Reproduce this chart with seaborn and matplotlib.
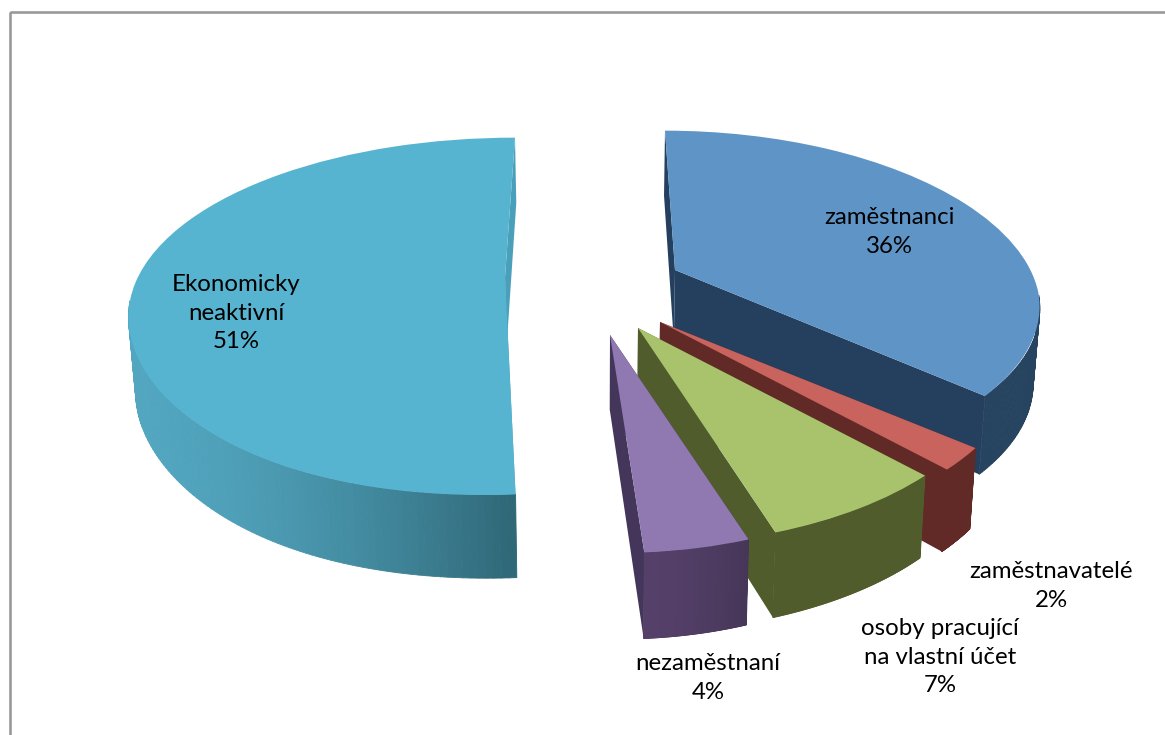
import numpy as np
import matplotlib
matplotlib.use("Agg")
import matplotlib.pyplot as plt
from matplotlib.collections import PolyCollection
from matplotlib.colors import to_rgb
from matplotlib.patches import Rectangle
from matplotlib.transforms import Transform
import seaborn as sns

# --- data -------------------------------------------------------------
categories = ["zaměstnanci", "zaměstnavatelé", "osoby pracující\nna vlastní účet",
              "nezaměstnaní", "Ekonomicky\nneaktivní"]
shares = [36, 2, 7, 4, 51]

# --- style ------------------------------------------------------------
top_colors = ["#5f94c6", "#c9635d", "#a9c26c", "#9078b0", "#56b4d0"]
wall_left = ["#26435f", "#622a26", "#505c2c", "#55406a", "#52a6c0"]
wall_right = ["#26435f", "#622a26", "#505c2c", "#463658", "#2e6675"]
radial_colors = ["#24405e", "#622a26", "#505c2c", "#43365a", "#4aa0ba"]
anchors = [(675, 270), (660, 322), (638, 328), (610, 335), (515, 277)]
x_scales = [356, 352, 352, 340, 377]
far_shears = [-10, 0, 0, 0, 0]
near_shears = [-55, 0, 0, 7, -30]
apex_shifts = [0, 0, 0, 0, -10]
label_pos = [(889, 232), (1051, 586), (940, 657), (708, 678), (236, 313)]
Y_SCALE, PERSPECTIVE = 170, 0.22

sns.set_theme(style="white")
plt.rcParams["font.family"] = ["Lato", "DejaVu Sans"]


class SliceProjection(Transform):
    """Tilted view of one pie slice, with pie radius 1, onto pixel-like data."""
    input_dims = output_dims = 2
    has_inverse = False

    def __init__(self, anchor, sx, far, near, apex_shift):
        super().__init__()
        self.anchor, self.sx, self.far, self.near, self.apex_shift = anchor, sx, far, near, apex_shift

    def transform_non_affine(self, values):
        v = np.asarray(values, dtype=float)
        x, y = v[:, 0], v[:, 1]
        w = 1 + PERSPECTIVE * y
        r = np.clip(np.hypot(x, y), 0, 1)
        px = (self.anchor[0] + self.sx * x / w + self.far * np.maximum(y, 0)
              + self.near * np.maximum(-y, 0) ** 4 + self.apex_shift * (1 - r))
        py = self.anchor[1] - Y_SCALE * y / w
        return np.column_stack([px, py])


def drop(points):
    """Bottom rim of the slab for top-face points."""
    p = np.asarray(points, dtype=float)
    depth = 72 + 0.05 * (p[:, 1] - 270)
    return np.column_stack([600 + (p[:, 0] - 600) * 0.985, p[:, 1] + depth])


fig = plt.figure(figsize=(11.65, 7.35), dpi=100, facecolor="white")
ax = fig.add_axes([0, 0, 1, 1])
wedges, _ = ax.pie(shares, colors=sns.color_palette(top_colors), startangle=90,
                   counterclock=False, radius=1, wedgeprops={"linewidth": 0})
ax.set_aspect("auto")
ax.set_xlim(0, 1165)
ax.set_ylim(735, 0)
ax.axis("off")

for i, wedge in enumerate(wedges):
    proj = SliceProjection(anchors[i], x_scales[i], far_shears[i], near_shears[i], apex_shifts[i])
    wedge.set_transform(proj + ax.transData)
    wedge.set_clip_on(False)
    wedge.set_zorder(2 * i + 3)

    t = np.radians(np.linspace(wedge.theta1, wedge.theta2, 200))
    rim = proj.transform(np.column_stack([np.cos(t), np.sin(t)]))
    rim_low = drop(rim)
    apex = proj.transform(np.array([[0.0, 0.0]]))
    apex_low = drop(apex)

    # radial faces
    for k in (0, len(t) - 1):
        face = np.vstack([apex, rim[k], rim_low[k], apex_low])
        ax.add_collection(PolyCollection([face], facecolors=[radial_colors[i]], edgecolors="none",
                                         zorder=2 * i + 2))
    # curved outer face, only its near part shows
    left, right = np.array(to_rgb(wall_left[i])), np.array(to_rgb(wall_right[i]))
    quads, cols = [], []
    xmin, xmax = rim[:, 0].min(), rim[:, 0].max()
    for k in range(len(t) - 1):
        if np.sin(t[k]) > -0.15 and np.sin(t[k + 1]) > -0.15:
            continue
        quads.append(np.vstack([rim[k], rim[k + 1], rim_low[k + 1], rim_low[k]]))
        f = (rim[k, 0] - xmin) / max(xmax - xmin, 1)
        cols.append(tuple(left + (right - left) * f ** 1.6))
    ax.add_collection(PolyCollection(quads, facecolors=cols, edgecolors=cols, linewidths=0.6,
                                     zorder=2 * i + 2))

for name, share, (lx, ly) in zip(categories, shares, label_pos):
    ax.text(lx, ly, f"{name}\n{share}%", ha="center", va="center", fontsize=17.3,
            color="black", linespacing=1.46, zorder=30)

ax.add_patch(Rectangle((9.5, 11.5), 1300, 900, fill=False, edgecolor="#999999",
                       linewidth=1.9, zorder=1))
fig.savefig("out.png", dpi=100, facecolor="white")
